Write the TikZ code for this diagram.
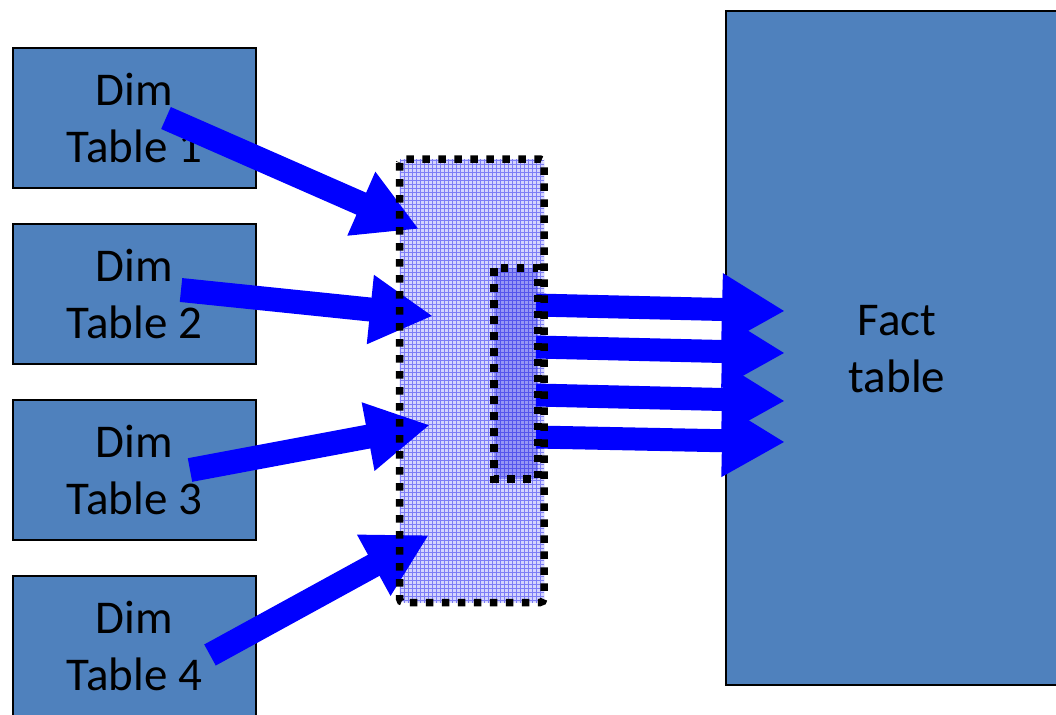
\documentclass[tikz,border=0pt]{standalone}
\usepackage{fontspec}
\setmainfont{Carlito}
\usetikzlibrary{arrows.meta}
\definecolor{tablefill}{RGB}{79,129,189}
\definecolor{flowblue}{RGB}{0,0,255}
\definecolor{keyfill}{RGB}{212,212,253}
\definecolor{keymesh}{RGB}{125,125,246}
\definecolor{keycore}{RGB}{150,150,244}
\definecolor{coremesh}{RGB}{85,85,236}
\tikzset{
  tablebox/.style={draw=black, line width=1pt, fill=tablefill, anchor=north west,
    inner sep=0pt, align=center, font=\fontsize{23.5}{28.5}\selectfont},
  dimbox/.style={tablebox, minimum width=121.5pt, minimum height=70pt},
  flow/.style={draw=flowblue, line width=12pt,
    -{Triangle[length=31.5pt,width=32.5pt]}},
  feed/.style={draw=flowblue, line width=11.5pt,
    -{Triangle[length=31.5pt,width=34pt]}},
  dotframe/.style={draw=black, line width=3.75pt, dash pattern=on 3.75pt off 4.25pt},
  mesh/.style={line width=0.35pt}
}
\begin{document}
\begin{tikzpicture}[x=0.5pt,y=-0.5pt]
\useasboundingbox (0,0) rectangle (1056,714);

% dimension tables and the fact table
\node[dimbox] (d1) at (12,47)  {Dim\\Table 1};
\node[dimbox] (d2) at (12,223) {Dim\\Table 2};
\node[dimbox] (d3) at (12,399) {Dim\\Table 3};
\node[dimbox] (d4) at (12,575) {Dim\\Table 4};
\node[tablebox, minimum width=172.5pt, minimum height=337pt] (fact) at (725,10) {};
\node[font=\fontsize{23.5}{28.5}\selectfont, align=center, inner sep=0pt] (factlbl) at (897,349) {Fact\\table};

% key area and its selected core, with a fine mesh texture
\coordinate (kA) at (399.5,159);
\coordinate (kB) at (544,602.5);
\coordinate (cA) at (494,268);
\coordinate (cB) at (538,479);
\fill[keyfill, rounded corners=2pt] (kA) rectangle (kB);
\begin{scope}
  \clip (kA) rectangle (kB);
  \draw[keymesh, mesh, step=2pt] (kA) grid (kB);
\end{scope}
\fill[keycore] (cA) rectangle (cB);
\begin{scope}
  \clip (cA) rectangle (cB);
  \draw[coremesh, mesh, step=2pt] (cA) grid (cB);
\end{scope}

% arrow end points
\coordinate (t1) at (166,118);  \coordinate (h1) at (419,229);
\coordinate (t2) at (181,290);  \coordinate (h2) at (433,316);
\coordinate (t3) at (190,470);  \coordinate (h3) at (430,425);
\coordinate (t4) at (210,655);  \coordinate (h4) at (429,535);
\coordinate (s1) at (536,305);  \coordinate (f1) at (785,311);
\coordinate (s2) at (536,347);  \coordinate (f2) at (785,353);
\coordinate (s3) at (536,395);  \coordinate (f3) at (785,401);
\coordinate (s4) at (536,437);  \coordinate (f4) at (785,442);

\draw[flow] (t1) -- (h1);
\draw[flow] (t2) -- (h2);
\draw[flow] (t3) -- (h3);
\draw[flow] (t4) -- (h4);
\draw[feed] (s1) -- (f1);
\draw[feed] (s2) -- (f2);
\draw[feed] (s3) -- (f3);
\draw[feed] (s4) -- (f4);

% dotted outlines on top
\draw[dotframe, rounded corners=2pt] (kA) rectangle (kB);
\draw[dotframe] (cA) rectangle (cB);
\end{tikzpicture}
\end{document}
